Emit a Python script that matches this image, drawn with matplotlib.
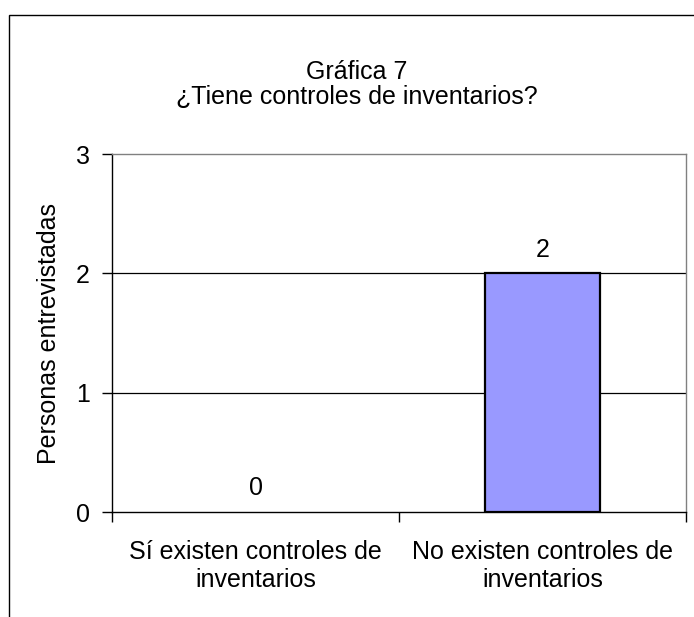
import matplotlib
matplotlib.use("Agg")
import matplotlib.pyplot as plt
from matplotlib.patches import Rectangle
import numpy as np

plt.rcParams['font.family'] = ['Liberation Sans', 'DejaVu Sans']

# survey answers
categories = ["Sí existen controles de\ninventarios", "No existen controles de\ninventarios"]
counts = [0, 2]
title_lines = ["Gráfica 7", "¿Tiene controles de inventarios?"]
y_label = "Personas entrevistadas"
y_ticks = [0, 1, 2, 3]

fig = plt.figure(figsize=(6.94, 6.17), dpi=100)
ax = fig.add_axes([112/694, 1 - 512/617, 574/694, 358/617])

# outer chart frame (runs off the right and bottom edges)
fig.patches.append(Rectangle((9/694, -0.2), 1.2, 1 - 15/617 + 0.2,
                             transform=fig.transFigure, fill=False,
                             edgecolor="#000000", linewidth=1.0))

x = np.arange(len(categories))
bars = ax.bar(x, counts, width=0.4, color="#9999FF", edgecolor="black",
              linewidth=1.6, zorder=3)
# empty bars get no outline
for b, v in zip(bars, counts):
    if v == 0:
        b.set_linewidth(0)

for xi, v in zip(x, counts):
    ax.annotate(str(v), (xi, v), xytext=(0, 8.5), textcoords="offset points",
                ha="center", va="bottom", fontsize=18)

ax.set_xlim(-0.5, 1.5)
ax.set_ylim(0, 3)
ax.set_yticks(y_ticks)
ax.set_yticklabels([str(t) for t in y_ticks], fontsize=18)
ax.tick_params(axis="y", direction="out", length=7, width=1, pad=9)

# category labels in the middle, tick marks on the category borders
ax.set_xticks(x)
ax.set_xticklabels(categories, fontsize=18)
ax.tick_params(axis="x", which="major", length=0, pad=20)
ax.set_xticks([-0.5, 0.5, 1.5], minor=True)
ax.tick_params(axis="x", which="minor", direction="out", length=7, width=1)

for y in [1, 2]:
    ax.axhline(y, color="black", linewidth=0.9, zorder=1)

ax.spines["left"].set_color("black")
ax.spines["bottom"].set_color("black")
ax.spines["top"].set_color("#808080")
ax.spines["right"].set_color("#808080")
for s in ax.spines.values():
    s.set_linewidth(1.0)

ax.set_ylabel(y_label, fontsize=18)
ax.yaxis.set_label_coords(-0.089, 0.5)

fig.text(357/694, 1 - 72/617, title_lines[0], ha="center", va="center", fontsize=18)
fig.text(357/694, 1 - 97/617, title_lines[1], ha="center", va="center", fontsize=18)

fig.savefig("out.png", dpi=100)
